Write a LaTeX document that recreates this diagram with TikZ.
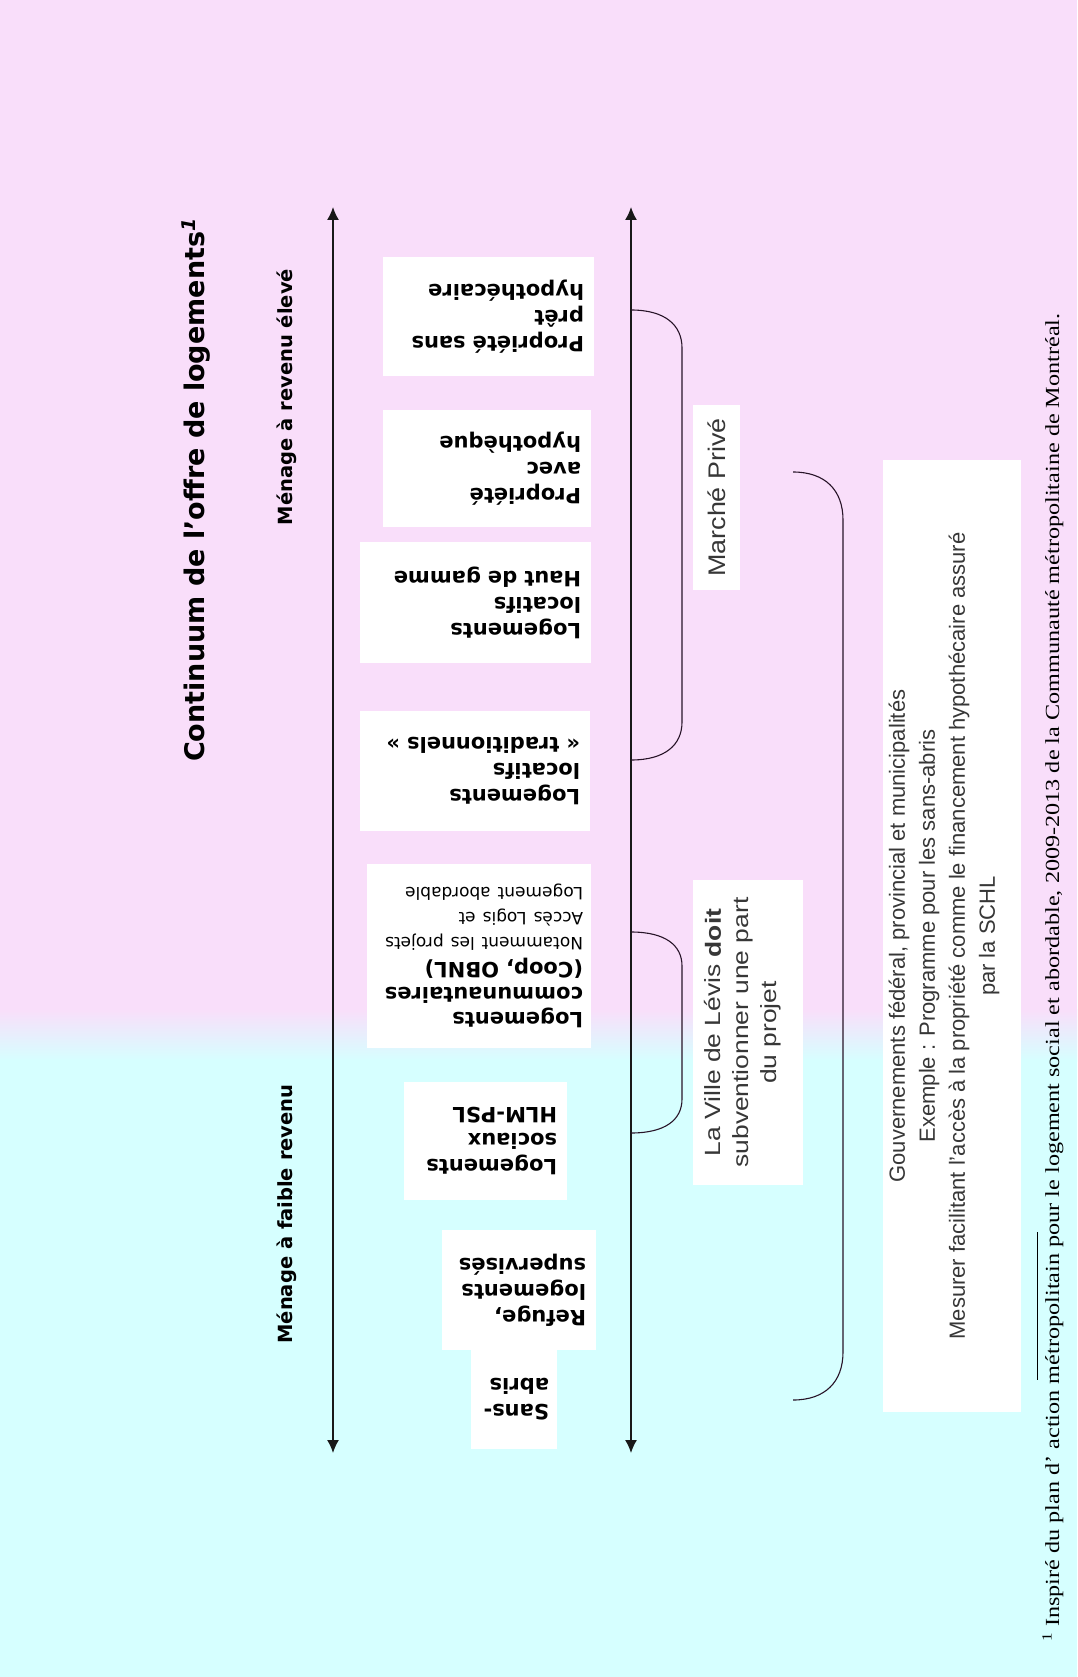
\documentclass[tikz,border=0pt]{standalone}
\usepackage{graphicx}
\usepackage{fontspec}
\setmainfont{DejaVu Sans}
\newfontfamily\arialf{Liberation Sans}
\newfontfamily\timesf{Liberation Serif}
\usetikzlibrary{arrows.meta}
\definecolor{bgpink}{RGB}{249,222,250}
\definecolor{bgcyan}{RGB}{214,255,255}
\definecolor{inkgray}{RGB}{55,55,55}
\definecolor{brk}{RGB}{40,20,40}
\newcommand{\wide}[2]{\scalebox{#1}[1]{#2}}
\begin{document}
\begin{tikzpicture}[x=1pt,y=-1pt,
  housebox/.style={fill=white, rotate=180, font=\bfseries\fontsize{21}{26}\selectfont,
    align=left, inner ysep=0pt, inner xsep=10pt},
  axisline/.style={line width=1.4pt, draw=black!90, {Latex[length=13pt,width=12pt]}-{Latex[length=13pt,width=12pt]}},
  bracket/.style={line width=1.1pt, draw=brk},
  sidelabel/.style={rotate=90, font=\bfseries\fontsize{19.5}{24}\selectfont},
  notebox/.style={fill=white, inner sep=0pt},
  notetext/.style={rotate=90, align=center, inner sep=0pt, text=inkgray}
]
\useasboundingbox (0,0) rectangle (1077,1677);
% background
\fill[bgpink] (0,0) rectangle (1077,1010);
\shade[top color=bgpink,bottom color=bgcyan] (0,1009) rectangle (1077,1061);
\fill[bgcyan] (0,1060) rectangle (1077,1677);

% title and side labels
\node[rotate=90, font=\bfseries\fontsize{27}{31}\selectfont] (title) at (196,490)
  {Continuum de l’offre de logements\textsuperscript{\itshape 1}};
\node[sidelabel] (low) at (287,1214) {Ménage à faible revenu};
\node[sidelabel] (high) at (287,397) {Ménage à revenu élevé};

% axes
\coordinate (lt) at (333,207);
\coordinate (lb) at (333,1453);
\coordinate (rt) at (631,207);
\coordinate (rb) at (631,1453);
\draw[axisline] (lt) -- (lb);
\draw[axisline] (rt) -- (rb);

% housing boxes
\node[housebox, minimum width=211, minimum height=119, text width=191] (propsans) at (488.5,316.5)
  {Propriété sans\\prêt\\hypothécaire};
\node[housebox, minimum width=208, minimum height=117, text width=188] (propavec) at (487,468.5)
  {Propriété\\avec\\hypothèque};
\node[housebox, minimum width=231, minimum height=121, text width=211] (haut) at (475.5,602.5)
  {Logements\\locatifs\\Haut de gamme};
\node[housebox, minimum width=230, minimum height=120, text width=210] (trad) at (475,771)
  {Logements\\locatifs\\« traditionnels »};
\node[housebox, minimum width=224, minimum height=184, text width=208, inner xsep=8pt,
      font=\fontsize{21}{25}\selectfont] (comm) at (479,956)
  {\textbf{Logements}\\\textbf{communautaires}\\\textbf{(Coop, OBNL)}\\
   {\fontsize{17}{25}\selectfont Notamment les projets}\\
   {\fontsize{17}{25}\selectfont Accès Logis et}\\
   {\fontsize{17}{25}\selectfont Logement abordable}};
\node[housebox, minimum width=163, minimum height=118, text width=143] (soc) at (485.5,1141)
  {Logements\\sociaux\\HLM-PSL};
\node[housebox, minimum width=154, minimum height=120, text width=134] (refuge) at (519,1290)
  {Refuge,\\logements\\supervisés};
\node[housebox, minimum width=86, minimum height=99, text width=70, inner xsep=8pt] (sans) at (514,1399.5)
  {Sans-\\abris};

% brackets
\draw[bracket] (631,310) .. controls (665,310) and (682,325) .. (682,348)
  -- (682,722) .. controls (682,745) and (665,760) .. (631,760);
\draw[bracket] (631,932) .. controls (665,932) and (682,945) .. (682,966)
  -- (682,1099) .. controls (682,1120) and (665,1133) .. (631,1133);
\draw[bracket] (793,472) .. controls (825,472) and (843,490) .. (843,520)
  -- (843,1352) .. controls (843,1382) and (825,1400) .. (793,1400);

% note boxes
\node[notebox, minimum width=47, minimum height=185] (marchebox) at (716.5,497.5) {};
\node[notetext, font=\arialf\fontsize{24}{28}\selectfont] (marche) at (716.5,497.5)
  {\wide{1.12}{Marché Privé}};
\node[notebox, minimum width=110, minimum height=305] (levisbox) at (748,1032.5) {};
\node[notetext, font=\arialf\fontsize{22}{28}\selectfont] (levis) at (743,1032.5)
  {\wide{1.2}{La Ville de Lévis \textbf{doit}}\\\wide{1.2}{subventionner une part}\\\wide{1.2}{du projet}};
\node[notebox, minimum width=138, minimum height=952] (govbox) at (952,936) {};
\node[notetext, font=\arialf\fontsize{22}{30}\selectfont] (govtext) at (944,936)
  {Gouvernements fédéral, provincial et municipalités\\
   Exemple : Programme pour les sans-abris\\
   Mesurer facilitant l’accès à la propriété comme le financement hypothécaire assuré\\
   par la SCHL};

% footnote
\coordinate (fa) at (1037,1232);
\coordinate (fb) at (1037,1380);
\draw[line width=1pt] (fa) -- (fb);
\node[rotate=90, anchor=west, inner sep=0pt, font=\timesf\fontsize{20}{24}\selectfont] (foot) at (1053,1642)
  {\wide{1.21}{\textsuperscript{1} Inspiré du plan d’ action métropolitain pour le logement social et abordable, 2009-2013 de la Communauté métropolitaine de Montréal.}};
\end{tikzpicture}
\end{document}
